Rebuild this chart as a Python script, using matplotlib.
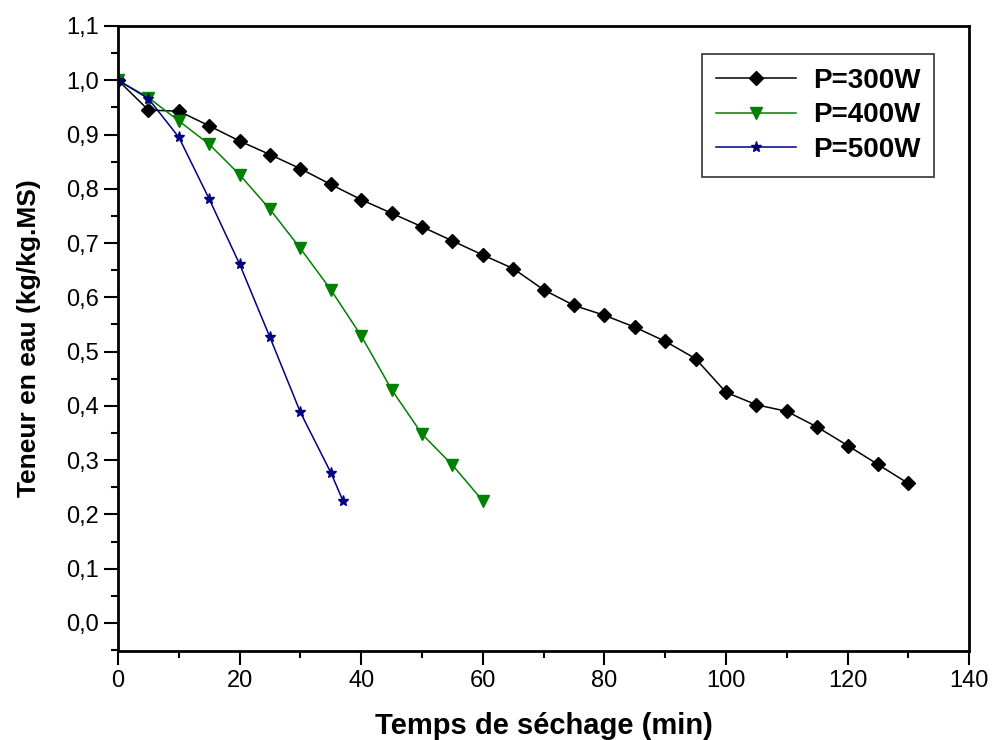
import numpy as np
import matplotlib.pyplot as plt
import matplotlib as mpl
from matplotlib.ticker import MultipleLocator, FuncFormatter

mpl.rcParams['font.family'] = ['Liberation Sans', 'DejaVu Sans']

# drying curves, moisture content vs time
t_300 = [0, 5, 10, 15, 20, 25, 30, 35, 40, 45, 50, 55, 60, 65, 70, 75, 80, 85, 90, 95, 100, 105, 110, 115, 120, 125, 130]
x_300 = [1.0, 0.945, 0.943, 0.916, 0.888, 0.863, 0.837, 0.808, 0.780, 0.755, 0.730, 0.704, 0.678, 0.653, 0.614, 0.585,
         0.567, 0.545, 0.519, 0.487, 0.425, 0.402, 0.390, 0.361, 0.327, 0.292, 0.257]
t_400 = [0, 5, 10, 15, 20, 25, 30, 35, 40, 45, 50, 55, 60]
x_400 = [1.0, 0.968, 0.925, 0.882, 0.826, 0.762, 0.690, 0.614, 0.529, 0.430, 0.348, 0.291, 0.225]
t_500 = [0, 5, 10, 15, 20, 25, 30, 35, 37]
x_500 = [1.0, 0.966, 0.895, 0.781, 0.661, 0.526, 0.388, 0.277, 0.225]
labels = ['P=300W', 'P=400W', 'P=500W']

fig = plt.figure(figsize=(9.92, 7.40), dpi=100)
ax = fig.add_axes([0.119, 0.1203, 0.858, 0.8446])

ax.plot(t_300, x_300, '-', color='k', lw=1.1, marker='D', ms=7, label=labels[0])
ax.plot(t_400, x_400, '-', color='#008000', lw=1.1, marker='v', ms=8, label=labels[1])
ax.plot(t_500, x_500, '-', color='#000080', lw=1.1, marker='*', ms=8, label=labels[2])

ax.set_xlim(0, 140)
ax.set_ylim(-0.0516, 1.1)
ax.xaxis.set_major_locator(MultipleLocator(20))
ax.xaxis.set_minor_locator(MultipleLocator(10))
ax.yaxis.set_major_locator(MultipleLocator(0.1))
ax.yaxis.set_minor_locator(MultipleLocator(0.05))
ax.yaxis.set_major_formatter(FuncFormatter(lambda v, p: ('%.1f' % v).replace('.', ',').replace('-0,0', '0,0')))

for s in ax.spines.values():
    s.set_linewidth(2)
ax.tick_params(which='both', direction='out', top=False, right=False, width=1.5, labelsize=17)
ax.tick_params(which='major', length=10, pad=4)
ax.tick_params(which='minor', length=5)

ax.set_xlabel('Temps de séchage (min)', fontsize=21, fontweight='bold', labelpad=14)
ax.set_ylabel('Teneur en eau (kg/kg.MS)', fontsize=19, fontweight='bold', labelpad=18)

leg = ax.legend(loc='upper right', bbox_to_anchor=(0.959, 0.955), borderaxespad=0,
                prop={'size': 20, 'weight': 'bold'}, fancybox=False, edgecolor='k',
                handlelength=2.9, labelspacing=0.3, borderpad=0.5, handletextpad=0.6)
leg.get_frame().set_linewidth(1.2)

plt.savefig('out.png', dpi=100)
